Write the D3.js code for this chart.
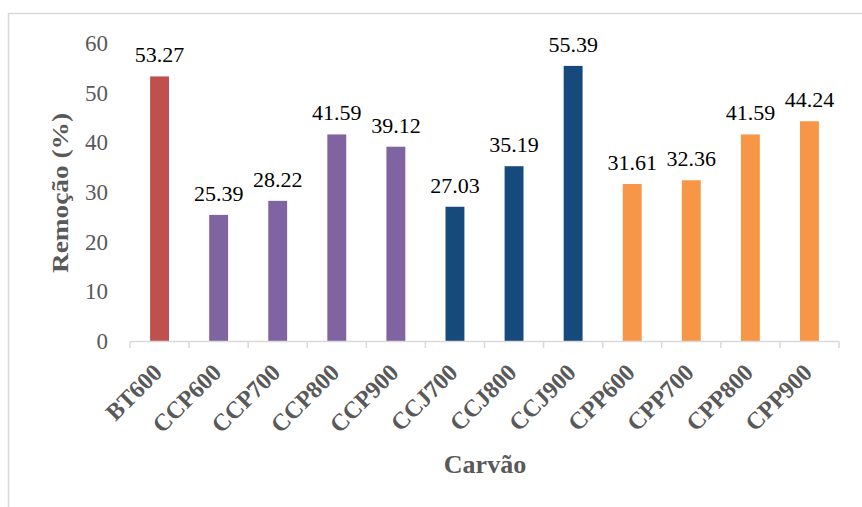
<!DOCTYPE html>
<html>
<head>
<meta charset="utf-8">
<script src="https://cdn.jsdelivr.net/npm/d3@7"></script>
<style>
  html, body { margin: 0; padding: 0; background: #fff; }
  svg { display: block; }
</style>
</head>
<body>
<svg id="chart" width="862" height="507"></svg>
<script>
// Carbon samples and their removal percentages
const categories = ["BT600", "CCP600", "CCP700", "CCP800", "CCP900", "CCJ700", "CCJ800", "CCJ900", "CPP600", "CPP700", "CPP800", "CPP900"];
const values = [53.27, 25.39, 28.22, 41.59, 39.12, 27.03, 35.19, 55.39, 31.61, 32.36, 41.59, 44.24];
const groups = ["BT", "CCP", "CCP", "CCP", "CCP", "CCJ", "CCJ", "CCJ", "CPP", "CPP", "CPP", "CPP"];
const groupNames = ["BT", "CCP", "CCJ", "CPP"];
const groupColors = ["#C0504D", "#8064A2", "#174A7C", "#F79646"];
const yTicks = [0, 10, 20, 30, 40, 50, 60];

const svg = d3.select("#chart");
const serif = "Liberation Serif, Times New Roman, serif";
const textGray = "#595959";

// Outer chart frame (runs past the right and bottom edges)
svg.append("rect")
  .attr("x", 8.5).attr("y", 13.5)
  .attr("width", 900).attr("height", 600)
  .attr("fill", "none")
  .attr("stroke", "#d9d9d9")
  .attr("stroke-width", 1.5);

const plot = { left: 130, right: 839, top: 43, bottom: 341 };

const x = d3.scaleBand()
  .domain(categories)
  .range([plot.left, plot.right])
  .paddingInner(0.68)
  .paddingOuter(0.34);

const y = d3.scaleLinear()
  .domain([0, 60])
  .range([plot.bottom, plot.top]);

const color = d3.scaleOrdinal().domain(groupNames).range(groupColors);

const data = categories.map((c, i) => ({ cat: c, val: values[i], grp: groups[i] }));

// Bars
svg.append("g").selectAll("rect")
  .data(data)
  .join("rect")
  .attr("x", d => x(d.cat))
  .attr("width", x.bandwidth())
  .attr("y", d => y(d.val))
  .attr("height", d => y(0) - y(d.val))
  .attr("fill", d => color(d.grp));

// Value labels
svg.append("g").selectAll("text")
  .data(data)
  .join("text")
  .attr("x", d => x(d.cat) + x.bandwidth() / 2)
  .attr("y", d => y(d.val) - 14)
  .attr("text-anchor", "middle")
  .style("font-family", serif)
  .style("font-size", "22px")
  .attr("fill", "#000")
  .text(d => d.val.toFixed(2));

// Y axis tick labels (no axis line)
svg.append("g").selectAll("text")
  .data(yTicks)
  .join("text")
  .attr("x", 108)
  .attr("y", d => y(d))
  .attr("dy", "0.35em")
  .attr("text-anchor", "end")
  .style("font-family", serif)
  .style("font-size", "23px")
  .attr("fill", textGray)
  .text(d => d);

// X axis baseline with tick marks between categories
const step = x.step();
const boundaries = d3.range(categories.length + 1).map(i => plot.left + i * step);
const xAxis = svg.append("g");
xAxis.append("line")
  .attr("x1", plot.left).attr("x2", plot.right)
  .attr("y1", y(0) + 0.5).attr("y2", y(0) + 0.5)
  .attr("stroke", "#d9d9d9").attr("stroke-width", 1.5);
xAxis.selectAll("line.tick")
  .data(boundaries)
  .join("line")
  .attr("class", "tick")
  .attr("x1", d => d).attr("x2", d => d)
  .attr("y1", y(0) + 0.5).attr("y2", y(0) + 7)
  .attr("stroke", "#d9d9d9").attr("stroke-width", 1.5);

// Rotated category labels
svg.append("g").selectAll("text")
  .data(categories)
  .join("text")
  .attr("transform", d => `translate(${x(d) + x.bandwidth() / 2 + 4},${plot.bottom + 33}) rotate(-45)`)
  .attr("text-anchor", "end")
  .style("font-family", serif)
  .style("font-weight", "bold")
  .style("font-size", "24px")
  .attr("fill", textGray)
  .text(d => d);

// Axis titles
svg.append("text")
  .attr("x", 485).attr("y", 473)
  .attr("text-anchor", "middle")
  .style("font-family", serif)
  .style("font-weight", "bold")
  .style("font-size", "26px")
  .attr("fill", textGray)
  .text("Carvão");

svg.append("text")
  .attr("transform", "translate(68,193) rotate(-90)")
  .attr("text-anchor", "middle")
  .style("font-family", serif)
  .style("font-weight", "bold")
  .style("font-size", "24px")
  .attr("fill", textGray)
  .attr("textLength", 160)
  .attr("lengthAdjust", "spacingAndGlyphs")
  .text("Remoção (%)");
</script>
</body>
</html>
